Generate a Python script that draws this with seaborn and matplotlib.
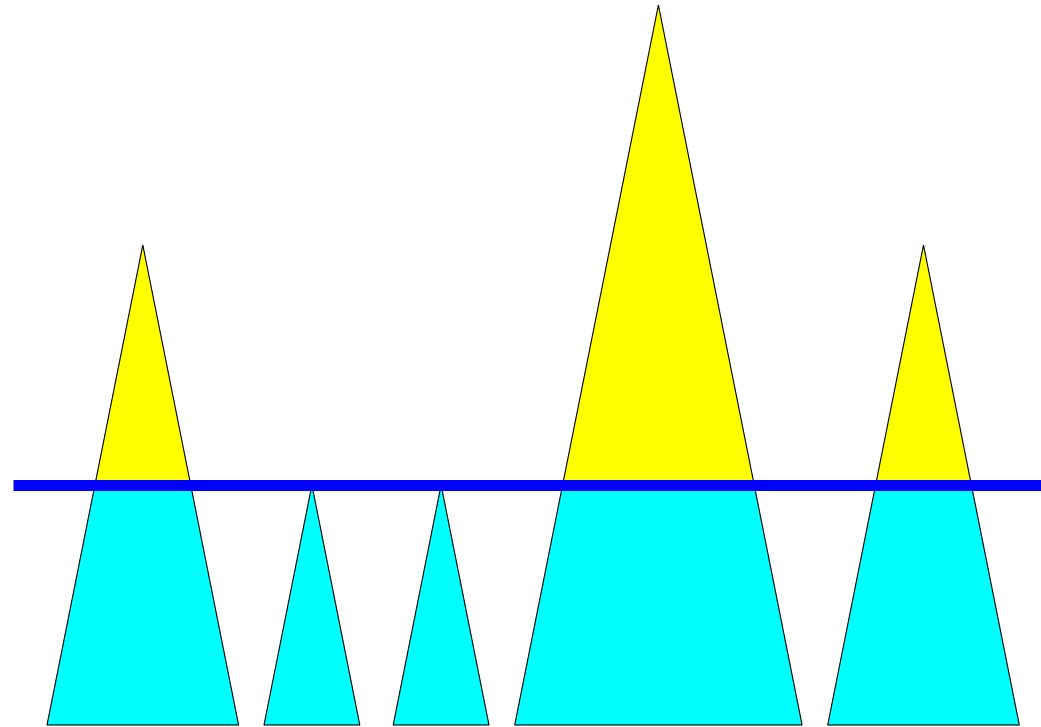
import numpy as np
import matplotlib
matplotlib.use("Agg")
import matplotlib.pyplot as plt
import seaborn as sns

# ---- data ----
values = [2, 1, 1, 3, 2]          # triangle heights (and widths scale with value)
threshold = 1                      # blue reference line

# ---- layout (style, not data) ----
W_PX, H_PX, DPI = 1041, 727, 100
unit_w_px = 95.8                   # pixels per unit of width
unit_h_px = 240.0                  # pixels per unit of height
left_px = 47.0
gaps_px = [25.4, 33.4, 25.7, 25.6]
base_px_from_top = 725.0
line_left_px = 13.0

sns.set_theme(style="white")
plt.rcParams['font.family'] = ['DejaVu Sans']

fig = plt.figure(figsize=(W_PX / DPI, H_PX / DPI), dpi=DPI)
ax = fig.add_axes([0, 0, 1, 1])
ax.set_xlim(0, W_PX / unit_w_px)
ax.set_ylim(-(H_PX - base_px_from_top) / unit_h_px, base_px_from_top / unit_h_px)
ax.axis("off")

x = left_px / unit_w_px
for i, v in enumerate(values):
    w = v                     # width in units
    l, r = x, x + w
    c = (l + r) / 2
    hw = w / 2
    if v > threshold:
        k = hw * (1 - threshold / v)
        ax.fill([l, r, c + k, c - k], [0, 0, threshold, threshold],
                color="#00FFFF", lw=0, zorder=1)
        ax.fill([c - k, c + k, c], [threshold, threshold, v],
                color="#FFFF00", lw=0, zorder=1)
    else:
        ax.fill([l, r, c], [0, 0, v], color="#00FFFF", lw=0, zorder=1)
    ax.fill([l, r, c], [0, 0, v], facecolor="none", edgecolor="black",
            lw=0.8, joinstyle="miter", zorder=2)
    if i < len(gaps_px):
        x = r + gaps_px[i] / unit_w_px

ax.hlines(threshold, line_left_px / unit_w_px, W_PX / unit_w_px,
          color="#0000FF", lw=11 * 72 / DPI, zorder=3)

fig.savefig("out.png", dpi=DPI)
